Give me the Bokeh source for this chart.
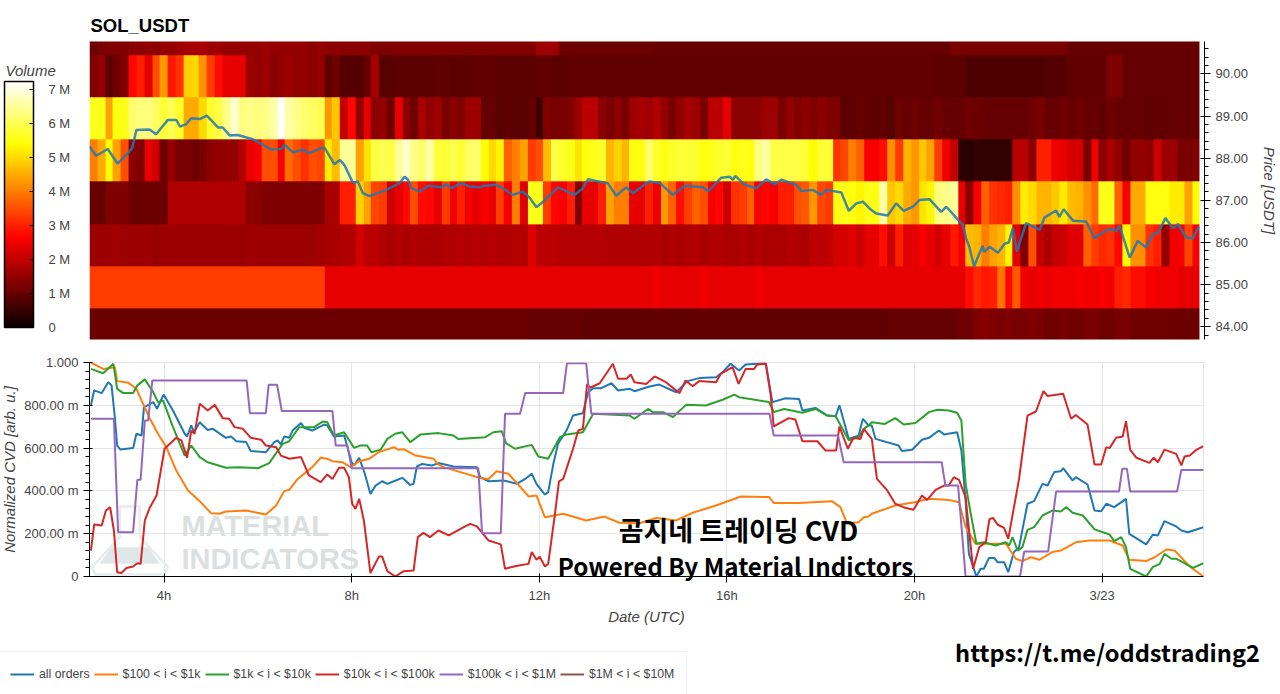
import numpy as np
from bokeh.plotting import figure
from bokeh.layouts import column
from bokeh.models import (LinearColorMapper, ColorBar, FixedTicker, Legend, LegendItem,
                          NumeralTickFormatter)
from bokeh.core.properties import value
from bokeh.embed import file_html
from bokeh.resources import INLINE

title_text = "SOL_USDT"
series_names = ["all orders", "$100 < i < $1k", "$1k < i < $10k", "$10k < i < $100k",
                "$100k < i < $1M", "$1M < i < $10M"]
series_colors = ["#1f77b4", "#ff7f0e", "#2ca02c", "#d62728", "#9467bd", "#8c564b"]
x_tick_hours = [4, 8, 12, 16, 20, 24]
x_tick_labels = ["4h", "8h", "12h", "16h", "20h", "3/23"]
y_tick_values = [0, 0.2, 0.4, 0.6, 0.8, 1.0]
y_tick_labels = ["0", "200.00 m", "400.00 m", "600.00 m", "800.00 m", "1.000"]
volume_ticks = [0, 1, 2, 3, 4, 5, 6, 7]
volume_labels = ["0", "1 M", "2 M", "3 M", "4 M", "5 M", "6 M", "7 M"]

start_hour = 2.41
bin_hours = 1 / 6
bottom_price = 83.44

# volume heat map, one list per price level, in millions
row_83 = [1.05,1.05,1.05,1.05,1.05,1.05,1.05,1.05,1.05,1.05,1.05,1.05,1.05,1.05,1.05,1.05,1.05,1.05,1.05,1.05,1.05,1.05,1.05,1.05,1.05,1.05,1.05,1.05,1.05,1.05,1.05,1.05,1.05,1.05,1.05,1.05,
          1.05,1.05,1.05,1.05,1.05,1.05,1.05,1.05,1.05,1.05,1.05,1.05,1.05,1.05,1.05,1.05,1.05,1.05,1.05,1.05,1.0,1.0,1.0,1.0,1.0,1.0,1.0,0.95,0.95,0.95,0.95,0.95,0.95,0.95,0.95,0.95,
          0.95,0.95,0.95,0.95,0.95,0.95,0.95,0.95,0.95,0.95,0.95,0.95,0.95,0.95,0.95,0.95,0.95,0.95,0.95,0.95,0.95,0.95,0.95,0.95,0.95,0.95,0.95,0.95,0.95,0.95,1.0,1.0,1.0,1.0,1.0,1.0,
          1.0,1.0,1.0,1.1,1.1,1.3,1.35,1.3,1.2,1.3,1.2,1.2,1.3,1.2,1.1,1.1,1.2,1.1,1.1,1.2,1.2,1.1,1.1,1.2,1.2,1.1,1.1,1.1,1.1,1.1,1.05,1.05,1.05,1.05]
row_84 = [3.3,3.3,3.3,3.3,3.3,3.3,3.3,3.3,3.3,3.3,3.3,3.3,3.3,3.3,3.3,3.3,3.3,3.3,3.3,3.3,3.3,3.3,3.3,3.3,3.3,3.3,3.3,3.3,3.3,3.3,
          2.4,2.4,2.4,2.4,2.4,2.4,2.4,2.4,2.4,2.4,2.4,2.4,2.4,2.4,2.4,2.4,2.4,2.4,2.4,2.4,2.4,2.4,2.4,2.4,2.4,2.4,2.4,2.4,2.4,2.4,
          2.4,2.4,2.4,2.4,2.4,2.4,2.4,2.4,2.4,2.4,2.4,2.4,2.5,2.4,2.4,2.4,2.4,2.4,2.5,2.4,2.4,2.4,2.4,2.4,2.4,2.5,2.4,2.4,2.4,2.4,
          2.4,2.4,2.4,2.4,2.4,2.4,2.4,2.4,2.4,2.4,2.4,2.4,2.4,2.4,2.4,2.4,2.4,2.4,2.4,2.4,2.4,2.4,
          2.8,3.1,2.9,3.0,3.9,2.7,3.6,2.5,2.4,2.5,2.4,2.5,2.5,2.5,2.6,2.5,2.5,2.6,2.5,3.0,3.1,2.8,2.8,2.6,2.5,2.5,2.5,2.4,2.4,2.4]
row_85 = [1.6,1.6,1.6,1.65,1.6,1.6,1.6,1.6,1.55,1.6,1.6,1.6,1.6,1.6,1.6,1.6,1.6,1.6,1.6,1.55,1.6,1.6,1.6,1.6,1.6,1.6,1.6,1.6,1.6,1.65,1.7,1.75,1.8,1.8,2.2,1.9,
          1.9,1.8,1.75,1.8,1.75,1.8,1.75,1.75,1.75,1.8,1.8,1.85,1.8,1.85,1.8,1.85,1.8,1.8,1.85,1.85,2.3,1.9,1.9,1.9,1.85,1.85,1.85,1.85,1.85,1.85,1.8,1.8,1.8,1.8,1.8,1.8,
          1.8,1.75,1.8,1.75,1.8,1.8,1.75,1.8,1.8,1.75,1.75,1.8,1.75,1.8,1.75,1.75,1.75,1.8,1.8,1.75,1.9,1.9,2.0,2.2,2.2,2.3,2.1,2.4,2.4,2.8,2.1,3.0,2.3,2.4,2.6,2.4,
          2.2,2.4,2.9,2.6,4.7,4.6,4.0,4.4,4.6,5.3,2.4,1.3,3.5,2.0,1.7,2.0,2.1,2.3,2.3,3.7,3.3,3.1,3.2,2.7,5.4,4.2,4.2,3.2,3.0,1.5,2.5,2.6,3.4,2.6]
row_86 = [1.0,1.0,1.3,1.3,1.3,1.05,1.05,1.05,1.05,1.05,1.8,1.8,1.8,1.8,1.8,1.8,1.8,1.8,1.8,1.8,1.4,1.4,1.25,1.25,1.25,1.25,1.25,1.25,1.25,1.25,1.7,1.7,3.0,3.0,4.9,4.4,
          3.4,3.3,2.1,2.4,2.7,3.5,2.8,2.7,2.4,3.3,2.5,3.0,2.5,2.4,2.6,2.4,3.3,2.6,4.0,2.3,5.6,5.6,3.3,2.7,2.6,3.0,1.3,2.4,2.4,3.0,4.4,4.0,4.0,2.4,2.4,3.0,
          2.5,4.3,3.7,2.8,3.3,3.7,3.5,2.6,2.7,2.1,3.2,3.3,3.7,2.6,2.7,2.6,3.0,3.0,3.5,3.6,4.3,3.4,3.3,5.5,5.6,5.5,5.3,5.6,5.5,6.6,4.8,5.0,4.5,4.3,5.1,5.3,
          6.3,6.4,6.5,2.4,1.4,2.6,3.7,3.2,3.1,3.0,4.2,5.2,5.0,4.6,4.6,4.8,5.2,4.7,4.6,4.2,3.8,5.6,5.6,3.7,2.6,4.5,4.5,5.5,5.5,5.5,5.2,5.2,4.4,5.4]
row_87 = [4.0,4.5,5.4,4.4,3.5,1.4,1.3,2.4,2.1,1.1,1.5,1.2,1.2,1.1,1.2,1.4,1.5,1.5,1.5,1.8,2.4,2.6,3.5,3.5,2.6,3.8,3.5,3.2,3.5,3.4,5.2,4.7,6.5,6.5,4.4,5.1,
          5.9,6.0,5.9,6.5,6.9,6.4,6.2,6.6,5.8,5.8,6.0,5.8,6.1,6.2,5.4,5.0,5.3,3.7,4.0,4.4,3.3,3.5,4.7,5.9,5.7,5.6,5.1,5.5,5.6,5.7,4.6,4.9,4.6,5.5,5.5,6.2,
          5.7,5.5,5.7,5.8,5.8,5.7,5.5,5.6,5.7,5.8,5.5,5.6,5.5,6.3,6.6,5.9,5.9,5.9,5.9,5.8,5.4,5.8,5.8,3.2,3.4,4.0,3.7,2.6,2.6,2.8,4.2,3.3,4.6,4.3,4.8,4.4,
          3.3,2.5,2.0,0.35,0.35,0.45,0.45,0.45,0.45,0.45,1.9,1.9,1.4,3.0,3.0,2.5,2.4,2.2,2.2,1.2,2.5,1.4,1.7,1.5,1.1,1.5,1.5,1.4,2.1,1.6,1.6,1.2,1.2,1.3]
row_88 = [5.6,5.6,4.4,5.5,5.6,6.2,6.3,6.3,6.1,5.8,6.0,5.7,4.5,4.5,5.0,5.7,5.9,6.4,6.9,6.3,6.4,6.3,6.4,6.6,7.2,6.6,6.4,6.2,6.1,6.0,4.3,4.8,2.0,2.7,1.5,2.4,
          1.4,1.5,1.1,2.4,1.4,1.1,1.7,1.5,1.6,1.2,1.4,1.3,1.6,1.6,1.0,1.0,0.85,0.9,0.85,0.85,1.0,0.6,1.3,1.2,1.2,1.3,1.6,1.9,1.9,1.4,1.2,1.4,1.2,1.6,1.7,1.6,
          1.8,1.5,1.2,1.5,1.7,1.6,1.2,1.9,1.9,2.4,1.4,1.4,1.4,1.4,1.6,1.6,1.2,1.5,1.3,1.4,1.3,1.4,1.3,1.3,0.9,0.9,1.0,0.95,0.9,0.95,0.85,1.1,1.0,1.1,1.0,1.0,
          1.1,1.0,1.0,1.0,1.1,1.05,1.0,1.0,1.0,1.0,1.0,1.0,1.1,1.2,1.0,1.0,1.1,1.0,1.1,1.0,1.0,0.95,1.1,1.0,1.0,1.0,1.0,0.95,0.95,0.95,1.0,1.0,1.0,1.0]
row_89 = [1.3,1.5,0.9,1.1,1.3,2.7,3.0,2.4,3.5,4.3,2.9,3.2,4.9,5.0,4.2,3.3,2.8,2.4,2.4,2.4,1.6,1.5,1.6,1.4,1.5,1.6,1.5,1.5,1.4,1.5,0.9,1.1,0.8,0.8,0.8,1.0,
          1.7,0.85,0.85,0.9,0.9,0.9,0.9,0.9,0.95,0.95,0.9,0.9,0.9,0.95,0.95,0.95,0.9,0.9,0.9,0.9,0.9,0.95,0.95,0.9,0.9,0.95,0.95,0.95,0.95,0.95,0.95,0.95,0.95,0.95,0.95,0.95,
          0.95,0.95,0.95,0.95,0.95,0.95,0.95,0.95,0.95,0.95,0.95,0.95,0.95,0.95,0.95,0.95,0.95,0.95,0.95,0.95,0.95,0.95,0.95,0.95,0.95,0.95,0.95,0.95,0.95,0.95,0.95,0.95,0.95,0.95,0.95,0.95,
          0.9,0.9,0.9,0.9,0.75,0.75,0.75,0.75,0.75,0.75,0.75,0.75,0.75,0.75,0.8,0.8,0.8,0.95,0.95,0.95,0.95,0.95,1.25,1.25,1.0,1.0,1.0,1.0,1.0,1.0,1.0,1.0,1.0,1.0]
row_90 = [1.1,1.2,1.3,1.3,1.3,1.4,1.4,1.5,1.4,1.5,1.5,1.6,1.7,1.7,1.7,1.6,1.6,1.5,1.5,1.5,1.5,1.5,1.6,1.5,1.5,1.5,1.5,1.5,1.4,1.5,1.4,1.4,1.4,1.4,1.4,1.4,
          1.3,1.3,1.3,1.3,1.3,1.3,1.3,1.3,1.3,1.3,1.3,1.3,1.3,1.3,1.3,1.3,1.3,1.3,1.3,1.3,1.3,1.6,1.6,1.6,1.05,1.05,1.05,1.05,1.05,1.05,1.05,1.05,1.05,1.05,1.05,1.05,
          1.0,1.0,1.0,1.0,1.0,1.0,1.0,1.0,1.0,1.0,1.0,1.0,1.0,1.0,1.0,1.0,1.0,1.0,1.0,1.0,1.0,1.0,1.0,1.0,1.0,1.0,1.0,1.0,1.0,1.0,1.0,1.0,1.0,1.0,1.0,1.0,
          1.0,1.0,1.2,1.2,1.2,1.2,1.2,1.2,1.2,1.2,1.2,1.2,1.2,1.2,1.2,1.2,1.2,1.0,1.0,1.0,1.0,1.0,1.0,1.0,1.0,1.0,1.0,1.0,1.0,1.0,1.0,1.0,1.0,1.0]

price_hour = [2.41,2.55,2.80,3.01,3.23,3.32,3.41,3.69,3.83,4.08,4.26,4.34,4.47,4.58,4.76,4.91,5.15,5.25,5.4,5.57,5.89,6.11,6.28,6.5,6.57,6.75,6.96,7.1,7.35,7.42,7.63,7.75,7.85,8.03,8.13,8.24,8.38,
              8.74,9.02,9.13,9.2,9.27,9.45,9.63,9.91,10.02,10.12,10.34,10.51,10.73,10.83,11.08,11.22,11.44,11.65,11.79,11.94,12.08,12.4,12.75,12.93,13.04,13.21,13.46,13.64,13.85,14.0,14.28,
              14.35,14.57,14.85,15.1,15.49,15.6,15.88,16.06,16.13,16.18,16.38,16.63,16.84,17.02,17.16,17.48,17.59,17.83,18.01,18.12,18.44,18.6,18.76,18.9,19.04,19.18,19.43,19.61,19.77,19.97,20.11,20.32,
              20.57,20.68,20.93,21.03,21.1,21.17,21.27,21.45,21.49,21.6,21.78,21.92,22.01,22.1,22.18,22.38,22.67,22.77,23.02,23.09,23.18,23.38,23.66,23.84,24.09,24.23,24.3,24.37,24.59,24.76,24.94,25.08,25.19,25.35,25.51,25.62,25.79,25.94,26.06]
price_usdt = [88.28,88.06,88.22,87.87,88.12,88.24,88.67,88.68,88.57,88.91,88.91,88.75,88.81,88.95,88.93,89.01,88.73,88.73,88.54,88.55,88.45,88.32,88.21,88.22,88.32,88.14,88.2,88.12,88.24,88.25,87.86,87.96,87.83,87.41,87.45,87.17,87.1,
              87.25,87.41,87.56,87.49,87.29,87.21,87.35,87.31,87.38,87.29,87.41,87.33,87.31,87.35,87.37,87.29,87.13,87.21,87.07,86.84,86.97,87.31,87.13,87.29,87.5,87.46,87.41,87.11,87.31,87.17,87.41,
              87.45,87.41,87.13,87.35,87.31,87.21,87.54,87.56,87.49,87.58,87.37,87.29,87.5,87.38,87.49,87.37,87.22,87.25,87.13,87.25,87.19,86.75,86.93,86.97,86.81,86.69,86.64,86.93,86.75,86.85,87.01,87.03,
              86.73,86.85,86.54,86.42,86.1,85.9,85.43,85.92,85.78,85.9,85.76,85.97,86.0,86.35,85.78,86.46,86.3,86.59,86.76,86.61,86.79,86.52,86.5,86.1,86.3,86.32,86.26,86.4,85.64,86.04,85.88,86.2,86.22,86.58,86.34,86.44,86.12,86.1,86.38]

all_h = [2.44,2.51,2.67,2.81,2.88,2.95,3.0,3.07,3.34,3.41,3.52,3.57,3.77,3.85,3.99,4.19,4.44,4.49,4.58,4.64,4.76,4.93,5.04,5.32,5.43,5.54,5.75,5.85,6.17,6.35,6.42,6.49,6.56,6.67,6.74,6.92,6.99,7.16,7.41,7.48,7.62,7.84,8.0,8.05,8.16,8.28,8.40,8.51,8.65,8.76,8.9,9.08,9.25,9.32,9.39,9.5,9.71,9.85,
         10.17,10.67,10.74,10.92,11.24,11.52,11.7,11.84,11.94,12.12,12.19,12.3,12.4,12.58,12.72,12.93,13.04,13.15,13.32,13.54,13.68,13.93,14.03,14.35,14.56,14.92,15.16,15.41,15.77,15.91,16.08,16.26,16.4,16.83,16.97,17.25,17.54,17.61,17.89,18.14,18.32,18.4,18.6,18.81,18.9,19.02,
         19.09,19.17,19.66,19.73,19.95,20.16,20.31,20.52,20.63,20.91,21.0,21.09,21.16,21.32,21.41,21.48,21.59,21.7,21.77,21.91,22.0,22.12,22.23,22.41,22.55,22.73,22.84,22.98,23.12,23.17,23.37,23.44,23.69,23.84,23.98,24.09,24.26,24.51,24.58,24.94,25.08,25.19,25.33,25.58,25.69,25.83,26.16]
all_v = [.80,.87,.857,.908,.893,.745,.612,.593,.60,.667,.659,.79,.815,.784,.85,.776,.667,.654,.706,.674,.721,.685,.69,.648,.654,.632,.628,.586,.581,.628,.636,.617,.654,.648,.682,.717,.695,.682,.71,.706,.654,.659,.534,.519,.555,.48,.386,.425,.445,.433,.445,.461,.428,.433,.514,.526,.519,.53,
         .514,.511,.464,.445,.449,.433,.456,.48,.433,.383,.394,.526,.62,.682,.752,.763,.861,.88,.88,.903,.869,.877,.866,.888,.897,.861,.913,.927,.931,.955,.994,.963,.991,.997,.815,.833,.83,.776,.788,.752,.749,.8,.643,.659,.737,.706,
         .706,.643,.612,.586,.592,.639,.648,.682,.664,.674,.589,.355,.106,0,.036,.036,.087,.087,.067,.067,.02,.114,.137,.34,.352,.433,.425,.488,.492,.506,.449,.464,.43,.308,.305,.34,.324,.363,.199,.15,.195,.192,.259,.234,.215,.207,.23]

small_h = [2.44,2.7,2.95,3.0,3.24,3.41,3.52,3.7,3.87,4.05,4.26,4.51,4.76,5.0,5.18,5.32,5.75,6.17,6.39,6.56,6.67,6.85,7.16,7.34,7.48,7.59,7.8,7.98,8.16,8.37,8.58,8.9,9.0,9.11,9.36,9.75,9.85,
           9.96,10.39,10.74,10.92,11.09,11.34,11.55,11.77,11.94,12.12,12.51,13.0,13.39,13.71,14.14,14.49,14.92,15.27,15.77,16.3,16.9,17.0,17.54,18.24,18.42,18.56,18.81,18.92,19.02,
           19.09,19.59,20.0,20.31,20.73,20.95,21.09,21.3,21.48,21.95,22.16,22.3,22.48,22.66,22.94,23.12,23.44,23.73,24.16,24.44,24.58,24.94,25.12,25.37,25.55,25.87,26.16]
small_v = [1.0,.97,.978,.913,.905,.877,.822,.737,.667,.604,.495,.402,.352,.296,.293,.304,.308,.29,.332,.399,.405,.456,.511,.555,.55,.539,.534,.511,.539,.55,.581,.604,.592,.595,.565,.55,.523,
           .511,.483,.46,.456,.492,.48,.43,.374,.379,.277,.293,.262,.28,.251,.249,.273,.262,.298,.332,.374,.371,.344,.343,.352,.324,.249,.254,.277,.28,
           .293,.332,.347,.363,.358,.347,.231,.153,.153,.153,.083,.072,.09,.078,.114,.121,.16,.168,.168,.145,.078,.072,.09,.126,.121,.047,0]

mid_h = [2.44,2.7,2.92,3.0,3.13,3.34,3.43,3.59,3.77,3.87,3.98,4.19,4.44,4.58,4.76,4.93,5.32,5.57,6.0,6.24,6.53,6.67,6.88,7.2,7.38,7.48,7.62,7.84,8.05,8.19,8.33,8.42,8.62,8.76,8.93,9.08,9.25,9.47,9.85,
         10.17,10.27,10.85,11.02,11.2,11.29,11.48,11.84,11.98,12.19,12.44,12.58,12.93,13.15,13.93,14.03,14.32,14.42,14.64,14.85,15.13,15.55,15.91,16.16,16.26,16.9,17.0,17.22,17.61,17.89,18.14,18.32,18.6,18.81,18.92,19.02,
         19.09,19.37,19.59,19.77,20.02,20.31,20.49,20.73,20.91,21.0,21.09,21.2,21.32,21.48,21.73,21.95,22.02,22.09,22.2,22.3,22.41,22.55,22.73,22.94,23.12,23.24,23.37,23.59,23.84,24.16,24.26,24.41,24.51,24.6,24.94,25.08,25.23,25.33,25.48,25.58,25.94,26.16]
mid_v = [.97,.95,.994,.877,.857,.857,.893,.921,.861,.815,.822,.698,.565,.612,.558,.534,.508,.511,.506,.53,.62,.632,.698,.698,.724,.721,.659,.674,.601,.612,.612,.581,.593,.643,.667,.674,.628,.664,.67,
         .659,.643,.651,.674,.679,.623,.597,.615,.561,.55,.651,.664,.674,.76,.752,.737,.783,.768,.768,.745,.802,.799,.826,.85,.838,.815,.768,.783,.765,.783,.752,.749,.636,.651,.69,.706,
         .721,.713,.74,.71,.717,.768,.779,.776,.765,.729,.433,.293,.153,.16,.145,.16,.145,.184,.121,.137,.218,.231,.285,.308,.304,.324,.298,.285,.22,.196,.165,.184,.137,.036,0,.044,.059,.106,.083,.083,.04,.062]

large_h = [2.44,2.51,2.67,2.76,2.85,2.93,3.0,3.09,3.2,3.34,3.43,3.5,3.59,3.7,3.84,4.01,4.26,4.37,4.49,4.58,4.65,4.76,4.93,5.08,5.25,5.39,5.5,5.68,5.85,6.07,6.17,6.39,6.49,6.67,6.92,7.09,7.34,7.48,7.59,7.73,7.84,7.94,8.01,8.08,8.16,8.26,8.4,8.58,8.65,8.76,8.93,9.11,9.32,9.41,9.53,9.67,9.85,
           10.07,10.39,10.53,10.67,10.92,11.18,11.27,11.48,11.77,11.84,11.94,12.01,12.12,12.19,12.33,12.42,12.51,12.72,12.83,12.93,13.02,13.08,13.29,13.57,13.68,13.86,13.95,14.03,14.28,14.46,14.7,14.99,15.12,15.27,15.41,15.77,15.87,16.12,16.25,16.4,16.58,16.65,16.83,16.93,17.0,17.32,17.46,17.61,17.93,18.1,18.33,18.4,18.58,18.7,18.85,18.92,
           19.09,19.2,19.41,19.59,19.8,19.98,20.16,20.27,20.45,20.63,20.73,20.84,20.95,21.09,21.25,21.38,21.52,21.6,21.68,21.77,21.91,22.0,22.23,22.41,22.59,22.75,22.84,23.17,23.34,23.44,23.69,23.84,23.98,24.09,24.16,24.3,24.44,24.51,24.6,24.73,25.01,25.1,25.19,25.33,25.58,25.69,25.76,25.87,26.01,26.16]
large_v = [.121,.243,.238,.308,.324,.215,.02,.016,.04,.047,.062,.059,.262,.324,.379,.597,.648,.636,.555,.682,.667,.807,.776,.802,.74,.737,.698,.69,.648,.639,.612,.604,.565,.55,.558,.472,.441,.477,.456,.508,.508,.464,.34,.316,.363,.262,.016,.093,.093,.025,0,.025,.028,.184,.204,.184,.215,
           .192,.231,.246,.234,.168,.15,.036,.048,.059,.114,.078,.093,.047,.059,.285,.445,.456,.597,.682,.69,.9,.882,.903,.994,.924,.924,.944,.908,.9,.935,.908,.857,.916,.889,.913,.908,.947,.978,.9,.97,.97,.991,.994,.854,.701,.74,.734,.632,.632,.589,.589,.701,.597,.648,.643,.69,
           .643,.456,.405,.34,.321,.312,.379,.358,.405,.425,.425,.464,.452,.371,.036,.137,.16,.269,.273,.243,.227,.176,.456,.752,.771,.866,.843,.854,.737,.755,.71,.523,.523,.604,.6,.648,.654,.726,.592,.555,.531,.555,.534,.593,.573,.519,.561,.565,.592,.609]

whale_h = [2.44,2.93,3.02,3.34,3.43,3.5,3.59,3.66,3.75,5.76,5.83,6.17,6.23,6.41,6.51,7.59,7.66,7.91,8.0,10.7,10.78,11.18,11.27,11.59,11.7,12.51,12.59,13.0,13.11,16.91,17.0,18.37,18.49,20.58,20.66,20.93,21.09,22.25,22.34,22.85,23.02,24.36,24.43,24.53,24.6,25.6,25.69,26.16]
whale_v = [.737,.737,.207,.207,.452,.452,.729,.729,.916,.916,.763,.763,.896,.896,.773,.773,.612,.612,.506,.506,.202,.202,.76,.76,.858,.858,.997,.997,.76,.76,.659,.659,.534,.534,.425,.425,0,0,.117,.117,.397,.397,.503,.503,.397,.397,.498,.498]

mega_h = []
mega_v = []

# hot colour scale
stops = np.linspace(0, 1, 256)
red = np.clip(0.0416 + stops / 0.365 * (1 - 0.0416), 0, 1)
green = np.clip((stops - 0.365) / 0.381, 0, 1)
blue = np.clip((stops - 0.746) / 0.254, 0, 1)
hot = ["#%02x%02x%02x" % (int(r * 255), int(g * 255), int(b * 255)) for r, g, b in zip(red, green, blue)]
mapper = LinearColorMapper(palette=hot, low=0, high=7.25)

TICK = "#444444"
FONT = "Liberation Sans"
LABEL_FONT = "Noto Sans CJK KR"

# ---- top panel
rows = [row_83, row_84, row_85, row_86, row_87, row_88, row_89, row_90]
heat = np.array(rows, dtype=float)
n_rows, n_cols = heat.shape

top = figure(output_backend="svg", toolbar_location=None, frame_width=1115, frame_height=298,
             x_range=(start_hour, start_hour + 1115 / 46.9), y_range=(83.7, 90.77),
             y_axis_location="right", min_border_left=94, min_border_top=41, min_border_bottom=11,
             min_border_right=71)
top.image(image=[heat], x=start_hour, y=bottom_price, dw=n_cols * bin_hours, dh=n_rows,
          color_mapper=mapper)
top.line(price_hour, price_usdt, line_color="#1f77b4", line_width=2.5, line_alpha=0.85)
top.xaxis.visible = False
top.grid.visible = False
top.outline_line_color = None
ax = top.yaxis[0]
ax.ticker = FixedTicker(ticks=[84, 85, 86, 87, 88, 89, 90],
                        minor_ticks=[round(83.8 + 0.2 * i, 1) for i in range(35)])
ax.formatter = NumeralTickFormatter(format="0.00")
ax.axis_line_color = "#000000"
ax.major_tick_line_color = "#000000"
ax.minor_tick_line_color = "#000000"
ax.major_tick_in = 4
ax.major_tick_out = 6
ax.minor_tick_in = 0
ax.minor_tick_out = 4
ax.major_label_text_font = FONT
ax.major_label_text_font_size = "13px"
ax.major_label_text_color = TICK
ax.axis_label = "Price [USDT]"
ax.axis_label_text_font = FONT
ax.axis_label_text_font_size = "15px"
ax.axis_label_text_font_style = "italic"
ax.axis_label_text_color = TICK
ax.axis_label_standoff = 10

cb = ColorBar(color_mapper=mapper, width=29, height=246, location=(-85, 12), padding=0, margin=0,
              ticker=FixedTicker(ticks=volume_ticks),
              major_label_overrides=dict(zip(volume_ticks, volume_labels)),
              major_label_text_font=FONT, major_label_text_font_size="13px",
              major_label_text_color=TICK, label_standoff=15,
              major_tick_line_color="#000000", major_tick_in=4, minor_tick_line_color=None,
              bar_line_color="#000000", bar_line_width=1.5)
top.add_layout(cb, "center")

# ---- bottom panel
bot = figure(output_backend="svg", toolbar_location=None, frame_width=1114, frame_height=214,
             x_range=(start_hour, start_hour + 1114 / 46.9), y_range=(0, 1),
             min_border_left=94, min_border_top=12, min_border_bottom=118, min_border_right=72)

# watermark
flask_h = [3.06, 3.06, 2.46, 2.53, 4.01, 4.08, 3.48, 3.48]
flask_v = [.327, .184, .044, .009, .009, .044, .184, .327]
liquid_h = [2.88, 2.62, 3.91, 3.66]
liquid_v = [.137, .059, .059, .137]
bot.patch(flask_h, flask_v, fill_color=None, line_color="#e8ecec", line_width=2.5)
bot.patch(liquid_h, liquid_v, fill_color="#dfe8e8", line_color=None)
bot.text([4.37, 4.37], [.237, .082], text=["MATERIAL", "INDICATORS"], text_font=value(FONT),
         text_font_size="29px", text_font_style="bold", text_color="#dcdfe0", text_baseline="middle")

series = [(all_h, all_v), (small_h, small_v), (mid_h, mid_v), (large_h, large_v), (whale_h, whale_v), (mega_h, mega_v)]
for (h, v), color in zip(series, series_colors):
    bot.line(h, v, line_color=color, line_width=2)

bot.xaxis.ticker = FixedTicker(ticks=x_tick_hours)
bot.xaxis.major_label_overrides = dict(zip(x_tick_hours, x_tick_labels))
bot.yaxis.ticker = FixedTicker(ticks=y_tick_values, minor_ticks=[round(0.04 * i, 2) for i in range(26)])
bot.yaxis.major_label_overrides = dict(zip(y_tick_values, y_tick_labels))
bot.xgrid.ticker = FixedTicker(ticks=x_tick_hours)
bot.ygrid.ticker = FixedTicker(ticks=y_tick_values)
bot.grid.grid_line_color = "#e5e5e5"
bot.grid.grid_line_width = 1
bot.outline_line_color = "#e5e5e5"
for a in [bot.xaxis[0], bot.yaxis[0]]:
    a.axis_line_color = "#000000"
    a.major_tick_line_color = "#000000"
    a.major_tick_in = 3
    a.major_tick_out = 6
    a.major_label_text_font = FONT
    a.major_label_text_font_size = "13px"
    a.major_label_text_color = TICK
    a.axis_label_text_font = FONT
    a.axis_label_text_font_size = "15px"
    a.axis_label_text_font_style = "italic"
    a.axis_label_text_color = TICK
bot.xaxis[0].minor_tick_line_color = None
bot.yaxis[0].minor_tick_line_color = "#000000"
bot.yaxis[0].minor_tick_in = 0
bot.yaxis[0].minor_tick_out = 4
bot.xaxis[0].axis_label = "Date (UTC)"
bot.xaxis[0].axis_label_standoff = 2
bot.yaxis[0].axis_label = "Normalized CVD [arb. u.]"
bot.yaxis[0].axis_label_standoff = 3

# ---- transparent page-sized layer for texts that sit outside the plot frames
layer = figure(output_backend="svg", toolbar_location=None, frame_width=1280, frame_height=694,
               x_range=(0, 1280), y_range=(694, 0), min_border=0,
               background_fill_alpha=0, border_fill_alpha=0, outline_line_color=None,
               styles={"position": "absolute", "left": "0px", "top": "0px", "pointer-events": "none"})
layer.axis.visible = False
layer.grid.visible = False

layer.text([90], [25], text=[title_text], text_font=value(FONT), text_font_size="18.5px",
           text_font_style="bold", text_color="#000000", text_baseline="middle")
layer.text([5], [70], text=["Volume"], text_font=value(FONT), text_font_size="15px",
           text_font_style="italic", text_color=TICK, text_baseline="middle")
overlay_text = ["곰지네 트레이딩 CVD", "Powered By Material Indictors", "https://t.me/oddstrading2"]
overlay_x = [738, 735, 1107]
overlay_y = [529, 565, 651]
overlay_size = ["27px", "24.2px", "23.6px"]
for t, ox, oy, s in zip(overlay_text, overlay_x, overlay_y, overlay_size):
    layer.text([ox], [oy], text=[t], text_font=value(LABEL_FONT), text_font_size=s,
               text_font_style="bold", text_color="#000000", text_align="center", text_baseline="middle")

keys = [layer.line([-20, -10], [-20, -20], line_color=c, line_width=2) for c in series_colors]
legend = Legend(items=[LegendItem(label=n, renderers=[k]) for n, k in zip(series_names, keys)],
                orientation="horizontal", location=(-3, -3), margin=0, padding=12,
                spacing=4, glyph_width=24, label_standoff=5, border_line_color="#e5e5e5",
                label_text_font=FONT, label_text_font_size="12.3px", label_text_color=TICK,
                background_fill_color="#ffffff", background_fill_alpha=1)
layer.add_layout(legend, "center")

page = column(top, bot, spacing=0, margin=(0, 0, 0, -5))
open("out.html", "w").write(file_html([page, layer], INLINE))
